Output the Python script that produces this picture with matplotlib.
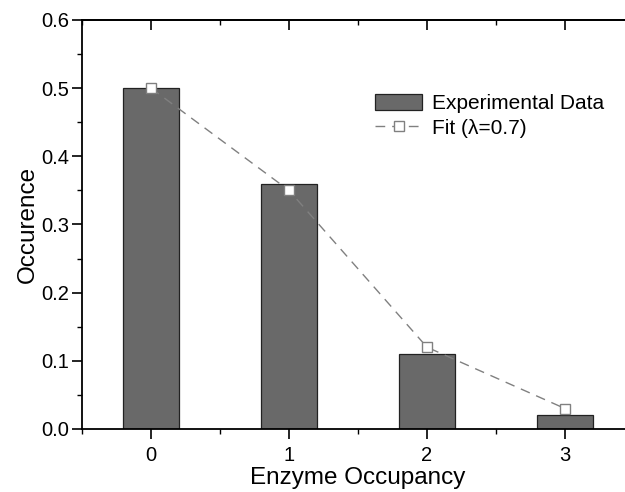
import matplotlib
matplotlib.use("Agg")
import matplotlib.pyplot as plt
from matplotlib.ticker import MultipleLocator

plt.rcParams['font.family'] = ['Liberation Sans', 'DejaVu Sans']

occupancy = [0, 1, 2, 3]
experimental = [0.50, 0.36, 0.11, 0.02]
fit = [0.50, 0.35, 0.12, 0.03]
x_ticks = [0, 1, 2, 3]
y_ticks = [0.0, 0.1, 0.2, 0.3, 0.4, 0.5, 0.6]

fig = plt.figure(figsize=(6.25, 4.92), dpi=100)
ax = fig.add_axes([82/625, 1-429/492, (634-82)/625, (429-20)/492])

ax.bar(occupancy, experimental, width=0.4, color='#696969', edgecolor='#222222',
       linewidth=0.9, label='Experimental Data', zorder=2)
ax.plot(occupancy, fit, linestyle=(0, (7, 5)), color='#808080', linewidth=1.0,
        marker='s', markersize=7.5, markerfacecolor='white', markeredgecolor='#808080',
        markeredgewidth=1.0, label='Fit (λ=0.7)', zorder=3)

ax.set_xlim(-0.5, 3.5)
ax.set_ylim(0, 0.6)
ax.set_xticks(x_ticks)
ax.set_yticks(y_ticks)
ax.set_yticklabels([f"{v:.1f}" for v in y_ticks])
ax.xaxis.set_minor_locator(MultipleLocator(0.5))
ax.yaxis.set_minor_locator(MultipleLocator(0.05))

ax.tick_params(axis='both', which='major', direction='out', length=7, width=1.2,
               labelsize=14.5, top=False, right=False)
ax.tick_params(axis='y', which='major', pad=2)
ax.tick_params(axis='x', which='major', pad=5)
ax.tick_params(axis='both', which='minor', direction='out', length=3.6, width=1.0,
               top=False, right=False)
for s in ax.spines.values():
    s.set_linewidth(1.3)

# top axis mirrored ticks pointing in
ax2 = ax.secondary_xaxis('top')
ax2.set_xticks(x_ticks)
ax2.xaxis.set_minor_locator(MultipleLocator(0.5))
ax2.tick_params(axis='x', which='major', direction='in', length=7, width=1.2, labeltop=False)
ax2.tick_params(axis='x', which='minor', direction='in', length=3.6, width=1.0)
ax2.set_xticklabels([])
ax2.spines['top'].set_linewidth(1.3)

ax.set_xlabel('Enzyme Occupancy', fontsize=17.5, labelpad=2)
ax.set_ylabel('Occurence', fontsize=17.5, labelpad=2)

handles, labels = ax.get_legend_handles_labels()
order = [labels.index('Experimental Data'), labels.index('Fit (λ=0.7)')]
ax.legend([handles[i] for i in order], [labels[i] for i in order],
          loc='upper left', bbox_to_anchor=(375/625, 1-94/492), bbox_transform=fig.transFigure,
          borderpad=0, borderaxespad=0, frameon=False, fontsize=15,
          handlelength=2.26, handleheight=0.8, labelspacing=0.25, handletextpad=0.5)

fig.savefig('out.png', dpi=100)
